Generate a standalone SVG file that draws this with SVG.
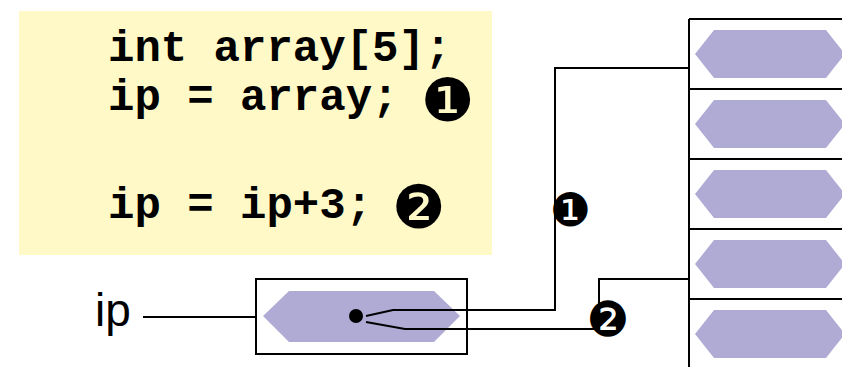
<svg xmlns="http://www.w3.org/2000/svg" width="842" height="367" viewBox="0 0 842 367">
<style>
.code{font-family:"Liberation Mono","Courier New",monospace;font-weight:bold;font-size:44px;fill:#000}
.ding{font-family:"DejaVu Sans",sans-serif;font-weight:normal;fill:#000}
.hex{fill:#b0abd5}
.box{fill:none;stroke:#000;stroke-width:2}
.wire{fill:none;stroke:#000;stroke-width:2}
.lbl{font-family:"Liberation Sans",Arial,sans-serif;font-size:46px;fill:#000}
</style>
<defs>
<polygon id="ahex" points="695,0 714,-24 826,-24 845,0 826,24 714,24"/>
</defs>
<g id="code">
<rect x="19" y="11" width="473" height="244" fill="#fef9c6"/>
<text class="code" x="108" y="61">int array[5];</text>
<text class="code" x="108" y="110">ip = array; <tspan class="ding" font-size="60" x="421" y="121">❶</tspan></text>
<text class="code" x="108" y="218">ip = ip+3; <tspan class="ding" font-size="60" x="392" y="228">❷</tspan></text>
</g>
<g id="array">
<line class="box" x1="689" y1="19" x2="689" y2="367"/>
<line class="box" x1="689" y1="19" x2="842" y2="19"/>
<line class="box" x1="689" y1="89" x2="842" y2="89"/>
<line class="box" x1="689" y1="159" x2="842" y2="159"/>
<line class="box" x1="689" y1="229" x2="842" y2="229"/>
<line class="box" x1="689" y1="299" x2="842" y2="299"/>
<use href="#ahex" class="hex" y="54"/>
<use href="#ahex" class="hex" y="124"/>
<use href="#ahex" class="hex" y="194"/>
<use href="#ahex" class="hex" y="264"/>
<use href="#ahex" class="hex" y="334"/>
</g>
<g id="ip">
<text class="lbl" x="95" y="326">ip</text>
<rect class="box" x="256" y="279" width="211" height="75"/>
<polygon class="hex" points="263,316 289,291 434,291 460,316 434,342 289,342"/>
<circle cx="356" cy="316" r="7" fill="#000"/>
</g>
<g id="connectors">
<line class="wire" x1="143" y1="317" x2="256" y2="317"/>
<polyline class="wire" points="366,316 393,310 555,310 555,68 689,68"/>
<polyline class="wire" points="366,322 405,329 599,329 599,279 689,279"/>
</g>
<g id="marks">
<text class="ding" x="570" y="226" font-size="46" text-anchor="middle">❶</text>
<text class="ding" x="608" y="336" font-size="48" text-anchor="middle">❷</text>
</g>
</svg>
